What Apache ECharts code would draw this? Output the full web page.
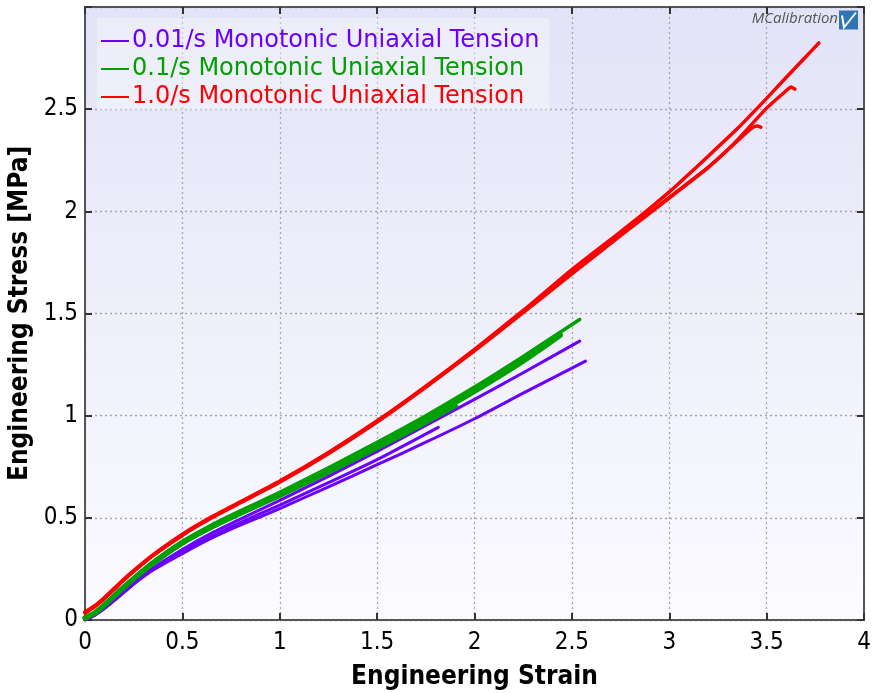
<!DOCTYPE html>
<html>
<head>
<meta charset="utf-8">
<script src="https://cdn.jsdelivr.net/npm/echarts@6/dist/echarts.min.js"></script>
<style>
  html, body { margin: 0; padding: 0; background: #ffffff; }
  #chart { width: 873px; height: 693px; }
</style>
</head>
<body>
<div id="chart"></div>
<script>
// Engineering stress–strain curves, [strain, stress MPa]
const rateNames = [
  '0.01/s Monotonic Uniaxial Tension',
  '0.1/s Monotonic Uniaxial Tension',
  '1.0/s Monotonic Uniaxial Tension'
];
const rateColors = ['#6a00ff', '#00a000', '#ff0000'];

// 0.01/s tests
const slowTestA = [[0,0],[0.05,0.025],[0.1,0.06],[0.15,0.1],[0.2,0.14],[0.26,0.19],[0.35,0.255],[0.5,0.345],[0.65,0.425],[0.8,0.495],[1.0,0.585],[1.25,0.703],[1.5,0.825],[1.75,0.952],[2.0,1.08],[2.25,1.21],[2.54,1.365]];
const slowTestB = [[0,0],[0.05,0.023],[0.1,0.056],[0.15,0.095],[0.2,0.135],[0.26,0.183],[0.35,0.245],[0.5,0.325],[0.65,0.4],[0.8,0.465],[1.0,0.545],[1.25,0.652],[1.5,0.76],[1.75,0.87],[2.0,0.985],[2.25,1.11],[2.57,1.267]];
const slowTestC = [[0,0],[0.05,0.024],[0.1,0.058],[0.15,0.097],[0.2,0.137],[0.26,0.186],[0.35,0.25],[0.5,0.335],[0.65,0.41],[0.8,0.478],[1.0,0.562],[1.25,0.672],[1.5,0.785],[1.814,0.943]];

// 0.1/s tests
const midTestA = [[0,0.01],[0.05,0.035],[0.1,0.075],[0.15,0.12],[0.2,0.165],[0.26,0.215],[0.35,0.285],[0.5,0.385],[0.65,0.465],[0.8,0.535],[1.0,0.625],[1.25,0.745],[1.5,0.87],[1.75,1.0],[2.0,1.14],[2.25,1.29],[2.54,1.471]];
const midTestB = [[0,0.01],[0.05,0.034],[0.1,0.073],[0.15,0.117],[0.2,0.161],[0.26,0.21],[0.35,0.279],[0.5,0.378],[0.65,0.457],[0.8,0.527],[1.0,0.615],[1.25,0.733],[1.5,0.855],[1.75,0.983],[2.0,1.12],[2.25,1.268],[2.44,1.394]];
const midTestC = [[0,0.01],[0.05,0.033],[0.1,0.071],[0.15,0.114],[0.2,0.158],[0.26,0.206],[0.35,0.274],[0.5,0.372],[0.65,0.45],[0.8,0.518],[1.0,0.605],[1.25,0.72],[1.5,0.838],[1.75,0.963],[1.908,1.047]];

// 1.0/s tests
const fastTestA = [[0,0.04],[0.05,0.07],[0.1,0.11],[0.15,0.155],[0.2,0.2],[0.26,0.25],[0.35,0.32],[0.5,0.42],[0.65,0.505],[0.8,0.58],[1.0,0.68],[1.25,0.82],[1.5,0.975],[1.75,1.145],[2.0,1.325],[2.25,1.515],[2.5,1.715],[2.75,1.9],[2.85,1.975],[3.0,2.095],[3.2,2.27],[3.35,2.405],[3.5,2.553],[3.6,2.655],[3.7,2.755],[3.768,2.824]];
const fastTestB = [[0,0.035],[0.05,0.066],[0.1,0.106],[0.15,0.151],[0.2,0.196],[0.26,0.246],[0.35,0.316],[0.5,0.415],[0.65,0.5],[0.8,0.575],[1.0,0.675],[1.25,0.815],[1.5,0.97],[1.75,1.14],[2.0,1.318],[2.25,1.505],[2.5,1.695],[2.75,1.882],[3.0,2.068],[3.2,2.215],[3.325,2.324],[3.5,2.505],[3.6,2.59],[3.626,2.609],[3.645,2.598]];
const fastTestC = [[0,0.035],[0.05,0.066],[0.1,0.106],[0.15,0.151],[0.2,0.196],[0.26,0.246],[0.35,0.316],[0.5,0.415],[0.65,0.5],[0.8,0.575],[1.0,0.675],[1.25,0.815],[1.5,0.97],[1.75,1.14],[2.0,1.318],[2.25,1.505],[2.5,1.695],[2.75,1.882],[3.0,2.065],[3.2,2.215],[3.35,2.345],[3.42,2.405],[3.45,2.418],[3.47,2.412]];

const xTicks = { min: 0, max: 4, step: 0.5 };
const yTicks = { min: 0, max: 3, step: 0.5 };

const curves = [
  { rate: 0, data: slowTestA, width: 3 },
  { rate: 0, data: slowTestB, width: 3 },
  { rate: 0, data: slowTestC, width: 3 },
  { rate: 1, data: midTestA, width: 3.5 },
  { rate: 1, data: midTestB, width: 5.5 },
  { rate: 1, data: midTestC, width: 3.5 },
  { rate: 2, data: fastTestA, width: 3.5 },
  { rate: 2, data: fastTestB, width: 3.5 },
  { rate: 2, data: fastTestC, width: 3.5 }
];

const labelFont = '"DejaVu Sans Condensed", "DejaVu Sans", sans-serif';

const chart = echarts.init(document.getElementById('chart'), null, { renderer: 'canvas' });

const splitStyle = { show: true, lineStyle: { color: '#a8a8a8', width: 1.3, type: [2, 3] } };
const tickStyle = { show: true, inside: true, length: 7, lineStyle: { color: '#333', width: 2 } };
const frameLine = { show: true, onZero: false, lineStyle: { color: '#555', width: 2 } };

chart.setOption({
  animation: false,
  backgroundColor: '#ffffff',
  grid: {
    left: 85, top: 7, width: 779, height: 613,
    containLabel: false,
    outerBoundsMode: 'none',
    show: true,
    borderColor: '#555', borderWidth: 2,
    backgroundColor: {
      type: 'linear', x: 0, y: 0, x2: 0, y2: 1,
      colorStops: [{ offset: 0, color: '#e3e3f8' }, { offset: 1, color: '#fbfbff' }]
    }
  },
  legend: {
    orient: 'vertical',
    left: 97, top: 18,
    padding: [11, 10, 1, 4],
    backgroundColor: 'rgba(255,255,255,0.35)',
    itemWidth: 28, itemHeight: 2, itemGap: 4,
    icon: 'rect',
    selectedMode: false,
    textStyle: { fontFamily: '"DejaVu Sans", sans-serif', fontSize: 24, lineHeight: 24, padding: [0, 0, 0, -2] },
    data: rateNames.map((n, i) => ({ name: n, itemStyle: { color: rateColors[i] }, textStyle: { color: rateColors[i] } }))
  },
  xAxis: [{
    type: 'value', min: xTicks.min, max: xTicks.max, interval: xTicks.step,
    name: 'Engineering Strain', nameLocation: 'middle', nameGap: 44,
    nameTextStyle: { fontFamily: labelFont, fontWeight: 'bold', fontSize: 26, color: '#000' },
    axisLine: frameLine, axisTick: tickStyle, splitLine: splitStyle,
    axisLabel: { fontFamily: labelFont, fontSize: 24, color: '#000', margin: 11 }
  }, {
    type: 'value', position: 'top', min: xTicks.min, max: xTicks.max, interval: xTicks.step,
    axisLine: frameLine, axisTick: tickStyle, splitLine: { show: false }, axisLabel: { show: false }
  }],
  yAxis: [{
    type: 'value', min: yTicks.min, max: yTicks.max, interval: yTicks.step,
    name: 'Engineering Stress [MPa]', nameLocation: 'middle', nameGap: 51,
    nameTextStyle: { fontFamily: labelFont, fontWeight: 'bold', fontSize: 26, color: '#000' },
    axisLine: frameLine, axisTick: tickStyle, splitLine: splitStyle,
    axisLabel: { fontFamily: labelFont, fontSize: 24, color: '#000', margin: 7,
      formatter: v => (v >= 3 ? '' : String(v)) }
  }, {
    type: 'value', position: 'right', min: yTicks.min, max: yTicks.max, interval: yTicks.step,
    axisLine: frameLine, axisTick: tickStyle, splitLine: { show: false }, axisLabel: { show: false }
  }],
  graphic: [
    {
      type: 'text', right: 35, top: 11,
      style: { text: 'MCalibration', fontFamily: '"Open Sans", "DejaVu Sans", sans-serif', fontStyle: 'italic', fontSize: 15, fill: '#555' }
    },
    {
      type: 'group', left: 839, top: 10,
      children: [
        { type: 'rect', shape: { x: 0, y: 0, width: 19, height: 19 }, style: { fill: '#2f74b5' } },
        { type: 'polyline', shape: { points: [[3, 5], [5, 17], [17, 2]] }, style: { stroke: '#ffffff', lineWidth: 2, fill: null } }
      ]
    }
  ],
  series: curves.map(c => ({
    type: 'line',
    name: rateNames[c.rate],
    data: c.data,
    showSymbol: false,
    smooth: 0.2,
    clip: true,
    lineStyle: { color: rateColors[c.rate], width: c.width, cap: 'round', join: 'round' },
    itemStyle: { color: rateColors[c.rate] },
    emphasis: { disabled: true }
  }))
});
</script>
</body>
</html>
